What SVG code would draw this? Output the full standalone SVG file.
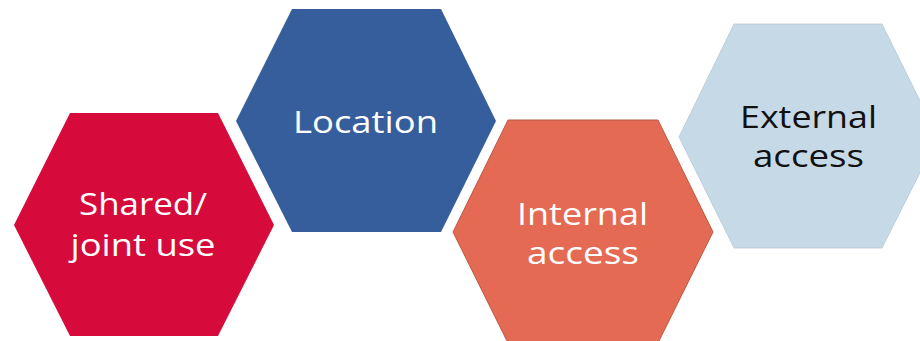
<svg xmlns="http://www.w3.org/2000/svg" width="920" height="341" viewBox="0 0 920 341">
  <style>
    .lbl { font-family: "Open Sans", "Liberation Sans", sans-serif; font-size: 31px; text-anchor: middle; }
    .light { fill: #ffffff; }
    .dark { fill: #111111; }
  </style>
  <rect width="920" height="341" fill="#ffffff"/>
  <g id="shared-joint-use">
    <polygon points="70,113 218,113 274,225 218,336 70,336 14,225" fill="#D60B3C"/>
    <text class="lbl light" x="143" y="215" textLength="128" lengthAdjust="spacingAndGlyphs">Shared/</text>
    <text class="lbl light" x="143" y="256" textLength="145" lengthAdjust="spacingAndGlyphs">joint use</text>
  </g>
  <g id="location">
    <polygon points="292,9 441,9 496,121 441,232 292,232 236,121" fill="#375E9C"/>
    <text class="lbl light" x="365.5" y="133" textLength="145" lengthAdjust="spacingAndGlyphs">Location</text>
  </g>
  <g id="internal-access">
    <polygon points="508,120 658,120 713,232 658,343 508,343 453,232" fill="#E56A54" stroke="#B95A45" stroke-width="1"/>
    <text class="lbl light" x="582.5" y="225" textLength="131" lengthAdjust="spacingAndGlyphs">Internal</text>
    <text class="lbl light" x="583" y="264" textLength="112" lengthAdjust="spacingAndGlyphs">access</text>
  </g>
  <g id="external-access">
    <polygon points="734,24 882,24 938,137 882,248 734,248 679,137" fill="#C6D9E6" stroke="#B9C8D3" stroke-width="0.8"/>
    <text class="lbl dark" x="808.5" y="128" textLength="137" lengthAdjust="spacingAndGlyphs">External</text>
    <text class="lbl dark" x="808.5" y="167" textLength="111" lengthAdjust="spacingAndGlyphs">access</text>
  </g>
  <g id="connectors"/>
</svg>
